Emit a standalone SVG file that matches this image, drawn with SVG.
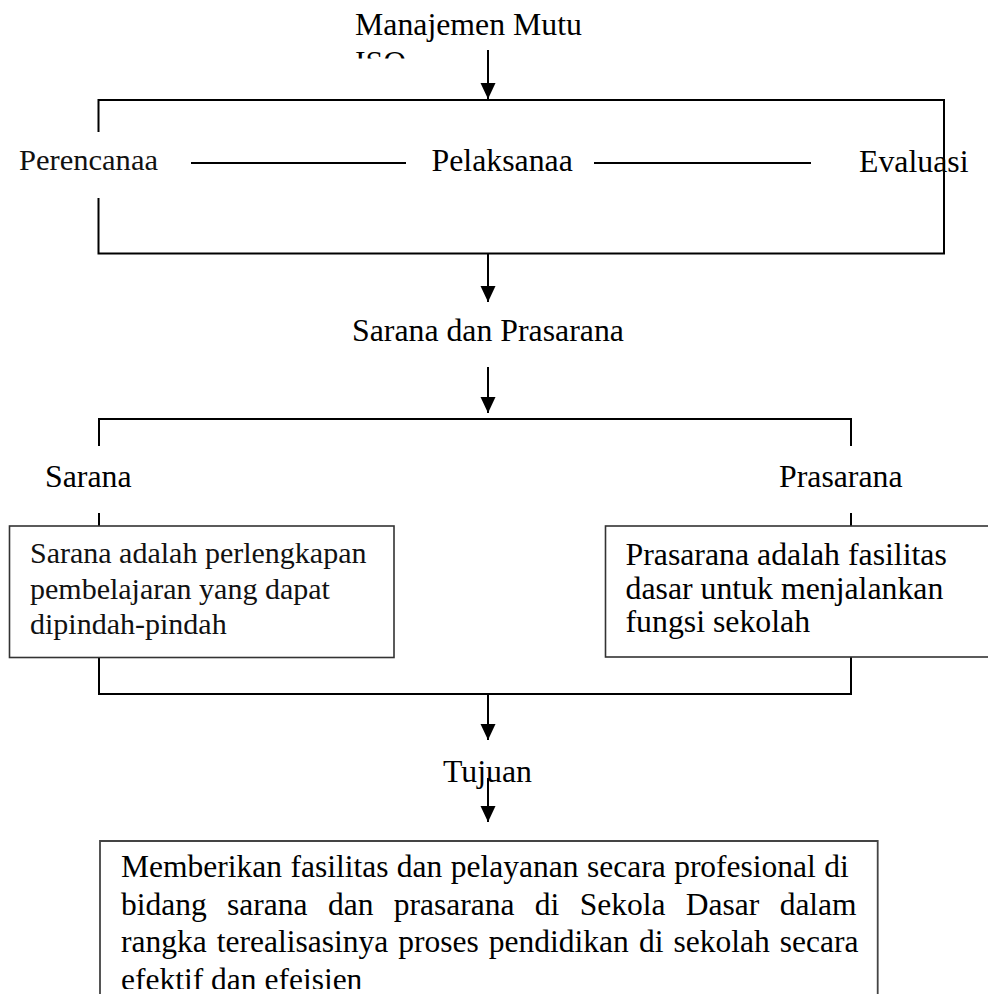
<svg xmlns="http://www.w3.org/2000/svg" width="988" height="994" viewBox="0 0 988 994">
  <style>
    .t { font-family: "Liberation Serif", "Times New Roman", serif; font-size: 31.8px; fill: #000; }
    .g { font-family: "Liberation Serif", "Times New Roman", serif; font-size: 30px; fill: #111; }
    .b { font-family: "Liberation Serif", "Times New Roman", serif; font-size: 31.5px; fill: #000; }
    .ln { stroke: #000; stroke-width: 2; fill: none; }
    .box { stroke: #333; stroke-width: 1.6; fill: #fff; }
    .arr { stroke: #000; stroke-width: 2; fill: none; marker-end: url(#ah); }
  </style>
  <defs>
    <marker id="ah" markerUnits="userSpaceOnUse" markerWidth="16" markerHeight="16" refX="16" refY="7.5" orient="auto">
      <path d="M0,0 L16,7.5 L0,15 z" fill="#000"/>
    </marker>
    <clipPath id="isoClip"><rect x="300" y="0" width="400" height="58.5"/></clipPath>
    <clipPath id="bottomClip"><rect x="100" y="841" width="778" height="148"/></clipPath>
  </defs>
  <rect width="988" height="994" fill="#fff"/>

  <g id="connectors">
    <!-- top box frame -->
    <path class="ln" d="M98.5,132 V100 H944 V253.5 H98.5 V198"/>
    <line class="ln" x1="191" y1="163" x2="406" y2="163"/>
    <line class="ln" x1="594" y1="163" x2="811" y2="163"/>
    <!-- arrows -->
    <line class="arr" x1="488" y1="50" x2="488" y2="99"/>
    <line class="arr" x1="488" y1="254" x2="488" y2="302"/>
    <line class="arr" x1="488" y1="367" x2="488" y2="413"/>
    <!-- upper bracket -->
    <path class="ln" d="M99,446 V419 H851 V446"/>
    <line class="ln" x1="99" y1="513" x2="99" y2="526"/>
    <line class="ln" x1="851" y1="513" x2="851" y2="526"/>
    <!-- lower bracket -->
    <path class="ln" d="M99,657 V694 H851 V657"/>
    <line class="arr" x1="488" y1="694" x2="488" y2="740"/>
  </g>

  <g id="node-manajemen">
    <text class="t" x="355" y="35">Manajemen Mutu</text>
    <text class="t" x="355" y="72.5" clip-path="url(#isoClip)">ISO</text>
  </g>

  <g id="node-perencanaan">
    <text class="g" x="19" y="170" textLength="139" lengthAdjust="spacingAndGlyphs">Perencanaa</text>
  </g>
  <g id="node-pelaksanaan">
    <text class="t" x="431.5" y="171">Pelaksanaa</text>
  </g>
  <g id="node-evaluasi">
    <text class="t" x="859" y="171.5">Evaluasi</text>
    <line class="ln" x1="944" y1="140" x2="944" y2="200"/>
  </g>

  <g id="node-sarana-prasarana">
    <text class="t" x="352" y="341">Sarana dan Prasarana</text>
  </g>

  <g id="node-sarana">
    <text class="t" x="45" y="487">Sarana</text>
  </g>
  <g id="node-prasarana">
    <text class="t" x="779" y="487">Prasarana</text>
  </g>

  <g id="node-sarana-def">
    <rect class="box" x="9.5" y="526" width="384.5" height="131.5"/>
    <text class="g" x="30" y="563">Sarana adalah perlengkapan</text>
    <text class="g" x="30" y="599">pembelajaran yang dapat</text>
    <text class="g" x="30" y="634">dipindah-pindah</text>
  </g>

  <g id="node-prasarana-def">
    <rect class="box" x="605.5" y="526" width="400" height="131"/>
    <text class="t" x="625.5" y="565">Prasarana adalah fasilitas</text>
    <text class="t" x="625.5" y="599">dasar untuk menjalankan</text>
    <text class="t" x="625.5" y="632">fungsi sekolah</text>
  </g>

  <g id="node-tujuan">
    <text class="t" x="443" y="782">Tujuan</text>
    <line class="arr" x1="488" y1="778" x2="488" y2="822"/>
  </g>

  <g id="node-tujuan-def">
    <path d="M100,1000 V841 H877.7 V1000" fill="#fff" stroke="#444" stroke-width="1.8"/>
    <g clip-path="url(#bottomClip)">
      <text class="b" x="121" y="877" word-spacing="0.6">Memberikan fasilitas dan pelayanan secara profesional di</text>
      <text class="b" x="121" y="914.5" word-spacing="12.5">bidang sarana dan prasarana di Sekola Dasar dalam</text>
      <text class="b" x="121" y="952" word-spacing="2.2">rangka terealisasinya proses pendidikan di sekolah secara</text>
      <text class="b" x="121" y="989.5">efektif dan efeisien</text>
    </g>
  </g>
</svg>
